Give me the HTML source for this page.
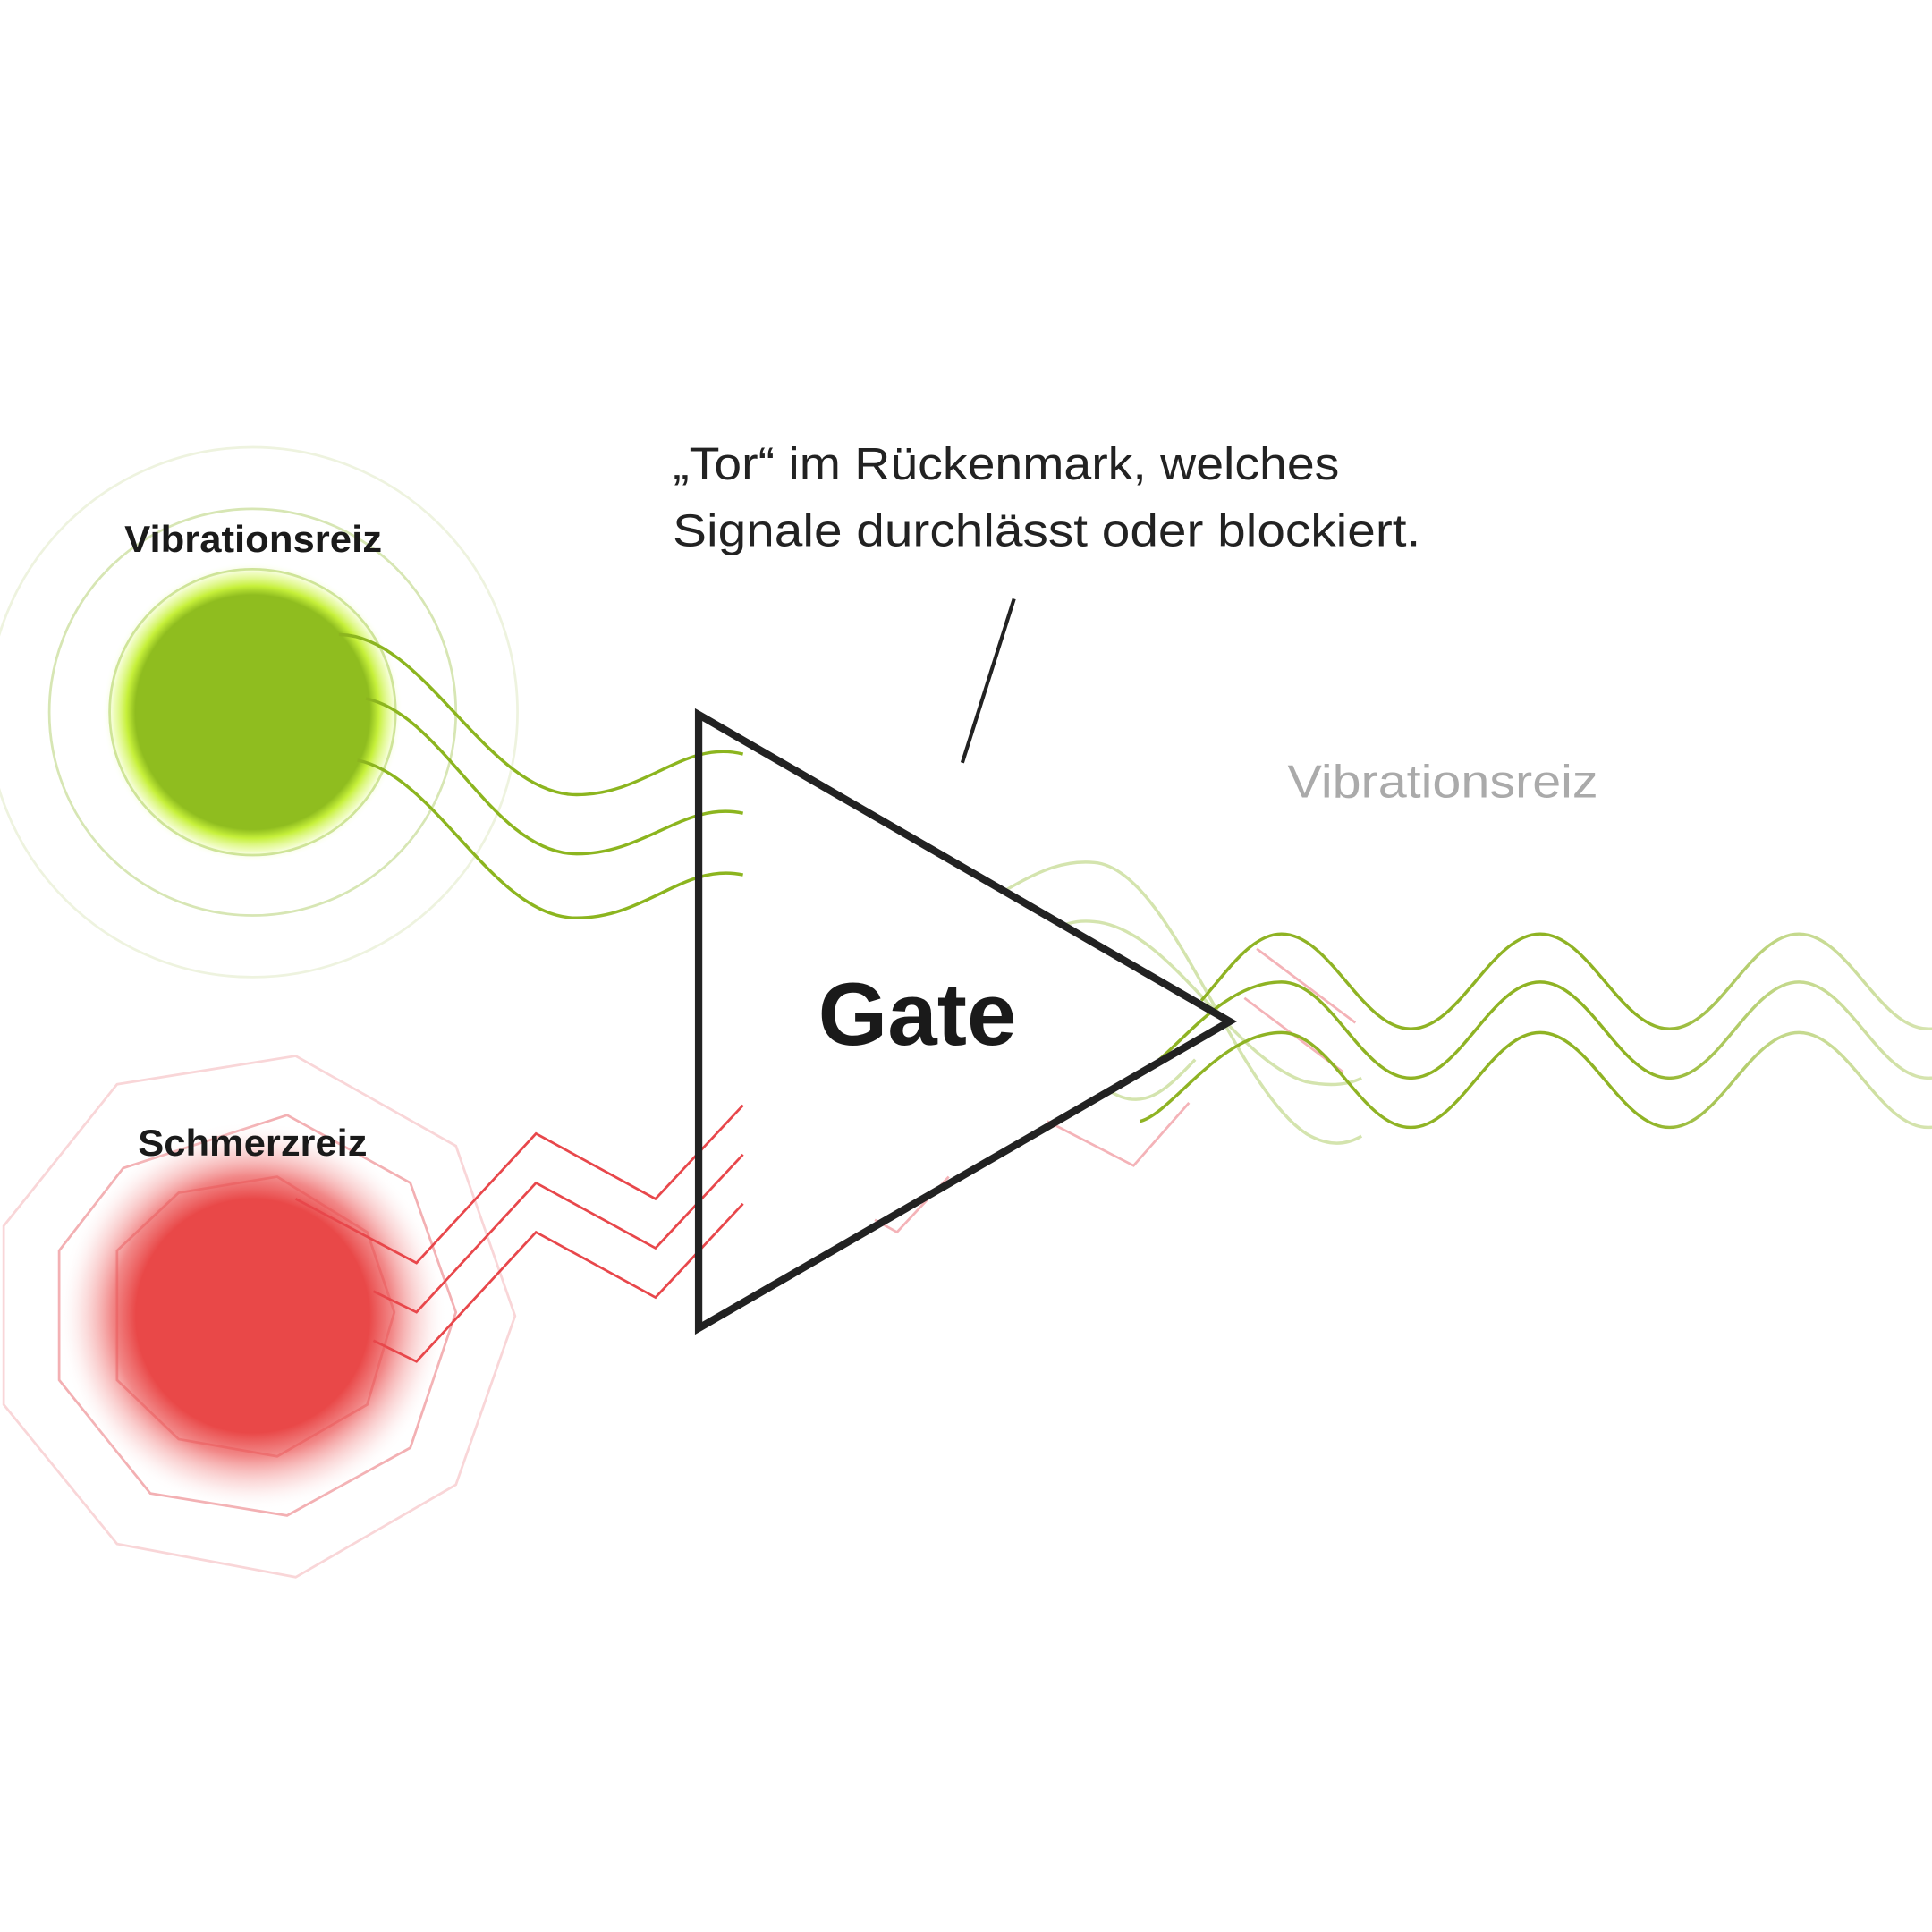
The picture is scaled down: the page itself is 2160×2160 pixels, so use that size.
<!DOCTYPE html>
<html><head><meta charset="utf-8"><style>
html,body{margin:0;padding:0;background:#fff}
svg{display:block}
text{font-family:"Liberation Sans",sans-serif}
</style></head><body>
<svg width="2160" height="2160" viewBox="0 0 1568 1568" xmlns="http://www.w3.org/2000/svg">
<defs>
<radialGradient id="gg" cx="0.5" cy="0.5" r="0.5">
<stop offset="0.78" stop-color="#8fbd1f"/>
<stop offset="0.84" stop-color="#c6f03a"/>
<stop offset="0.92" stop-color="#e6fb9a" stop-opacity="0.7"/>
<stop offset="1" stop-color="#ffffff" stop-opacity="0"/>
</radialGradient>
<radialGradient id="rg" cx="0.5" cy="0.5" r="0.5">
<stop offset="0.6" stop-color="#e94848"/>
<stop offset="0.72" stop-color="#ee6a6a" stop-opacity="0.8"/>
<stop offset="0.88" stop-color="#f7b5b5" stop-opacity="0.35"/>
<stop offset="1" stop-color="#ffffff" stop-opacity="0"/>
</radialGradient>
<linearGradient id="wg" gradientUnits="userSpaceOnUse" x1="900" y1="0" x2="1568" y2="0">
<stop offset="0" stop-color="#8fb324"/>
<stop offset="0.65" stop-color="#8fb324"/>
<stop offset="0.82" stop-color="#c3d88a"/>
<stop offset="1" stop-color="#d6e4b0"/>
</linearGradient>
</defs>

<circle cx="205" cy="578" r="215" fill="none" stroke="#eef3df" stroke-width="2"/>
<circle cx="205" cy="578" r="165" fill="none" stroke="#d7e6b4" stroke-width="2"/>
<circle cx="205" cy="578" r="116" fill="none" stroke="#b6d27a" stroke-width="2"/>
<circle cx="205" cy="578" r="122" fill="url(#gg)"/>

<polygon points="95,880 240,857 370,930 418,1068 370,1205 240,1280 95,1253 3,1140 3,995" fill="none" stroke="#f9d6d8" stroke-width="2"/>
<polygon points="100,948 48,1015 48,1120 122,1212 233,1230 333,1175 370,1065 333,960 233,905" fill="none" stroke="#f3b0b3" stroke-width="2"/>
<polygon points="145,968 225,955 298,1000 320,1065 298,1140 225,1182 145,1168 95,1120 95,1015" fill="none" stroke="#ec8a8e" stroke-width="2"/>
<circle cx="205" cy="1068" r="158" fill="url(#rg)"/>

<text x="101" y="448" font-size="30" font-weight="bold" fill="#1a1a1a" textLength="209" lengthAdjust="spacingAndGlyphs">Vibrationsreiz</text>
<text x="112" y="938" font-size="30" font-weight="bold" fill="#1a1a1a" textLength="186" lengthAdjust="spacingAndGlyphs">Schmerzreiz</text>

<g fill="none" stroke="#8cb51f" stroke-width="2.5">
<path d="M275,515 C345,515 395,645 468,645 C525,645 555,600 603,612"/>
<path d="M297,567 C360,580 400,693 468,693 C525,693 555,650 603,660"/>
<path d="M290,617 C355,630 400,745 468,745 C525,745 555,700 603,710"/>
</g>

<g fill="none" stroke="#e8474b" stroke-width="2">
<polyline points="240,973 338,1025 435,920 532,973 603,897"/>
<polyline points="303,1048 338,1065 435,960 532,1013 603,937"/>
<polyline points="303,1088 338,1105 435,1000 532,1053 603,977"/>
</g>
<g fill="none" stroke="#f4b3b8" stroke-width="2">
<polyline points="850,910 920,946 965,895"/>
<polyline points="710,990 728,1000 770,955"/>
<polyline points="1020,770 1100,830"/>
<polyline points="1010,810 1090,870"/>
</g>

<g fill="none" stroke="#d4e4ae" stroke-width="2.5">
<path d="M812,725 C845,705 865,698 888,700 C950,705 1000,880 1060,920 C1080,932 1095,928 1105,922"/>
<path d="M860,752 C870,748 878,747 888,748 C950,753 1000,860 1060,878 C1080,882 1095,880 1105,875"/>
<path d="M900,885 C930,905 950,880 970,860"/>
</g>

<g fill="none" stroke="url(#wg)" stroke-width="2.5">
<path d="M975,812 C995,790 1015,758 1040,758 C1080,758 1105,835 1145,835 S1210,758 1250,758 S1315,835 1355,835 S1420,758 1460,758 S1525,835 1565,835 S1630,758 1670,758"/>
<path d="M920,872 C945,870 985,797 1040,797 C1080,797 1105,875 1145,875 S1210,797 1250,797 S1315,875 1355,875 S1420,797 1460,797 S1525,875 1565,875 S1630,797 1670,797"/>
<path d="M925,910 C950,905 990,838 1040,838 C1080,838 1105,915 1145,915 S1210,838 1250,838 S1315,915 1355,915 S1420,838 1460,838 S1525,915 1565,915 S1630,838 1670,838"/>
</g>

<polygon points="567,580 998,829 567,1078" fill="none" stroke="#222" stroke-width="6" stroke-linejoin="miter"/>
<text x="664" y="848" font-size="72" font-weight="bold" fill="#1a1a1a" textLength="161" lengthAdjust="spacingAndGlyphs">Gate</text>

<text x="546" y="389" font-size="37" fill="#222" textLength="541" lengthAdjust="spacingAndGlyphs">„Tor“ im Rückenmark, welches</text>
<text x="546" y="443" font-size="37" fill="#222" textLength="607" lengthAdjust="spacingAndGlyphs">Signale durchlässt oder blockiert.</text>
<line x1="823" y1="486" x2="781" y2="619" stroke="#222" stroke-width="3"/>

<text x="1045" y="647" font-size="38" fill="#aaaaaa" textLength="252" lengthAdjust="spacingAndGlyphs">Vibrationsreiz</text>
</svg>
</body></html>
